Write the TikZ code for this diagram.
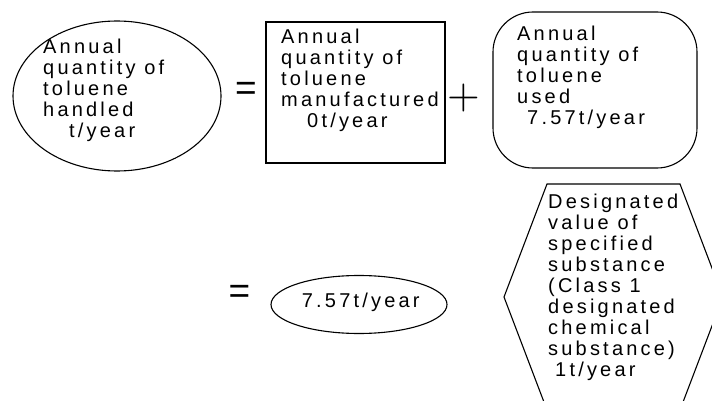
\documentclass[tikz,border=0pt]{standalone}
\usepackage{fontspec}
\setmainfont{Liberation Sans}
\newfontfamily\spacedfont[LetterSpace=16]{Liberation Sans}
\newfontfamily\plusfont{lmroman10-regular.otf}

\tikzset{
  outline/.style={line width=1.1pt},
  qty/.style={anchor=base west, inner sep=0pt, align=left,
    font=\spacedfont\fontsize{20}{21}\selectfont},
  sign/.style={inner sep=0pt, font=\fontsize{37}{37}\selectfont},
  plussign/.style={inner sep=0pt, font=\plusfont\fontsize{42}{42}\selectfont}
}

\begin{document}
\begin{tikzpicture}[x=1pt, y=-1pt]
  \useasboundingbox (0,0) rectangle (712,401);
  % quantity handled (base = last line)
  \draw[outline] (117,96) ellipse (104 and 75);
  \node[qty] (handled) at (43,138) {Annual\\quantity of\\toluene\\handled\\\hspace{26pt}t/year};
  \node[sign] (eqtop) at (246,91) {=};
  % quantity manufactured
  \draw[outline] (266,22) rectangle (445,163);
  \node[qty] (manufactured) at (281,128) {Annual\\quantity of\\toluene\\manufactured\\\hspace{26pt}0t/year};
  \node[plussign] (plus) at (464,98) {+};
  % quantity used
  \draw[outline, rounded corners=40pt] (493,12) rectangle (697,168);
  \node[qty] (used) at (517,124.7) {Annual\\quantity of\\toluene\\used\\\hspace{10pt}7.57t/year};
  % result
  \node[sign] (eqbottom) at (239.5,294.5) {=};
  \draw[outline] (359,304.5) ellipse (88 and 29);
  \node[qty] (total) at (301.7,307.7) {7.57t/year};
  % designated value
  \draw[outline] (547,184) -- (680,184) -- (723,297) -- (680,410)
    -- (547,410) -- (504,297) -- cycle;
  \node[qty] (designated) at (548,376.3) {Designated\\value of\\specified\\substance\\(Class 1\\designated\\chemical\\substance)\\\hspace{7pt}1t/year};
\end{tikzpicture}
\end{document}
